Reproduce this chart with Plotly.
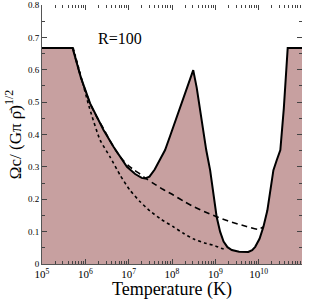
import plotly.graph_objects as go

# log10(T) and Omega values
solid_logT = [5.0, 5.71, 5.72, 5.9, 6.11, 6.3, 6.42, 6.65, 6.8, 6.96, 7.15, 7.3, 7.38, 7.48, 7.6, 7.72, 7.84, 7.96, 8.16, 8.35, 8.49,
              8.57, 8.65, 8.79, 8.88, 8.96, 9.03, 9.11, 9.19, 9.28, 9.38, 9.55, 9.7, 9.76, 9.85, 9.92, 10.02, 10.11, 10.2, 10.27, 10.34,
              10.42, 10.5, 10.58, 10.67, 11.0]
solid_val = [0.667, 0.667, 0.660, 0.575, 0.496, 0.444, 0.414, 0.362, 0.330, 0.300, 0.278, 0.266, 0.264, 0.270, 0.292, 0.321, 0.352, 0.397, 0.474, 0.546, 0.599,
             0.545, 0.475, 0.352, 0.290, 0.210, 0.146, 0.100, 0.069, 0.052, 0.043, 0.038, 0.036, 0.037, 0.043, 0.053, 0.078, 0.115, 0.165, 0.228, 0.290,
             0.322, 0.352, 0.480, 0.667, 0.667]

dash_logT = [5.71, 5.9, 6.11, 6.26, 6.42, 6.58, 6.72, 6.86, 7.0, 7.13, 7.26, 7.42, 7.57, 7.8, 8.03, 8.28, 8.53, 8.78, 9.03, 9.25, 9.46, 9.72, 9.99, 10.11]
dash_val = [0.667, 0.575, 0.496, 0.455, 0.418, 0.378, 0.347, 0.322, 0.303, 0.290, 0.278, 0.262, 0.249, 0.230, 0.213, 0.193, 0.175, 0.160, 0.146, 0.135, 0.126, 0.116, 0.107, 0.115]

dot_logT = [5.72, 5.88, 6.1, 6.34, 6.57, 6.8, 7.03, 7.26, 7.49, 7.76, 8.03, 8.26, 8.5, 8.75, 9.0, 9.13, 9.26]
dot_val = [0.667, 0.589, 0.480, 0.383, 0.331, 0.275, 0.228, 0.193, 0.164, 0.137, 0.115, 0.095, 0.077, 0.065, 0.056, 0.049, 0.044]

x_tickvals = [1e5, 1e6, 1e7, 1e8, 1e9, 1e10, 1e11]
x_ticktext = ["10<sup>5</sup>", "10<sup>6</sup>", "10<sup>7</sup>", "10<sup>8</sup>", "10<sup>9</sup>",
              "10<sup>10</sup>", "10<sup>11</sup>"]
y_tickvals = [0, 0.1, 0.2, 0.3, 0.4, 0.5, 0.6, 0.7, 0.8]
y_ticktext = ["0", "0.1", "0.2", "0.3", "0.4", "0.5", "0.6", "0.7", "0.8"]

x_minor = [m * 10 ** e for e in range(5, 11) for m in range(2, 10)]
y_minor = [0.05 + 0.1 * i for i in range(8)]

FILL = "#c7a0a0"
SERIF = "Liberation Serif, Times New Roman, serif"

fig = go.Figure()
fig.add_trace(go.Scatter(x=[10 ** v for v in solid_logT], y=solid_val, mode="lines",
                         fill="tozeroy", fillcolor=FILL,
                         line=dict(color="black", width=2), showlegend=False))
fig.add_trace(go.Scatter(x=[10 ** v for v in dash_logT], y=dash_val, mode="lines",
                         line=dict(color="black", width=1.6, dash="6px,4px", shape="spline", smoothing=0.6),
                         showlegend=False))
fig.add_trace(go.Scatter(x=[10 ** v for v in dot_logT], y=dot_val, mode="lines",
                         line=dict(color="black", width=1.6, dash="dot", shape="spline", smoothing=0.6),
                         showlegend=False))
# invisible trace for mirrored tick axes
fig.add_trace(go.Scatter(x=[1e5, 1e11], y=[0, 0.8], xaxis="x2", yaxis="y2", mode="markers",
                         marker=dict(opacity=0), showlegend=False, hoverinfo="skip"))

tickcol = "#444444"
fig.update_layout(
    template="none",
    width=311, height=300,
    margin=dict(l=42, r=9, t=5, b=36, pad=0),
    paper_bgcolor="white", plot_bgcolor="white",
    font=dict(family=SERIF, color="black"),
    xaxis=dict(type="log", range=[5, 11], showgrid=False, zeroline=False, automargin=False,
               showline=True, linecolor="#555555", linewidth=1,
               ticks="inside", ticklen=5, tickcolor=tickcol,
               tickvals=x_tickvals, ticktext=x_ticktext, tickfont=dict(size=11, color="black"),
               minor=dict(tickvals=x_minor, ticks="inside", ticklen=3, tickcolor=tickcol, showgrid=False),
               title=dict(text="Temperature (K)", font=dict(size=18, color="black"), standoff=0)),
    yaxis=dict(range=[0, 0.8], showgrid=False, zeroline=False, automargin=False,
               showline=True, linecolor="#555555", linewidth=1,
               ticks="inside", ticklen=5, tickcolor=tickcol,
               tickvals=y_tickvals, ticktext=y_ticktext, tickfont=dict(size=9, color="black"),
               minor=dict(tickvals=y_minor, ticks="inside", ticklen=3, tickcolor=tickcol, showgrid=False),
               title=dict(text="Ωc/ (Gπ ρ̄)<sup>1/2</sup>", font=dict(size=17, color="black"), standoff=2)),
    xaxis2=dict(type="log", range=[5, 11], overlaying="x", side="top", showgrid=False, zeroline=False,
                automargin=False, showline=False, ticks="inside", ticklen=5, tickcolor=tickcol,
                tickvals=x_tickvals, showticklabels=False,
                minor=dict(tickvals=x_minor, ticks="inside", ticklen=3, tickcolor=tickcol, showgrid=False)),
    yaxis2=dict(range=[0, 0.8], overlaying="y", side="right", showgrid=False, zeroline=False,
                automargin=False, showline=False, ticks="inside", ticklen=5, tickcolor=tickcol,
                tickvals=y_tickvals, showticklabels=False,
                minor=dict(tickvals=y_minor, ticks="inside", ticklen=3, tickcolor=tickcol, showgrid=False)),
    annotations=[dict(text="R=100", xref="paper", yref="paper", x=0.208, y=0.911,
                      showarrow=False, font=dict(size=16, family=SERIF, color="black"))],
)

fig.write_html("out.html", config={"displayModeBar": False},
               post_script="document.body.style.margin='0';document.body.style.padding='0';")
